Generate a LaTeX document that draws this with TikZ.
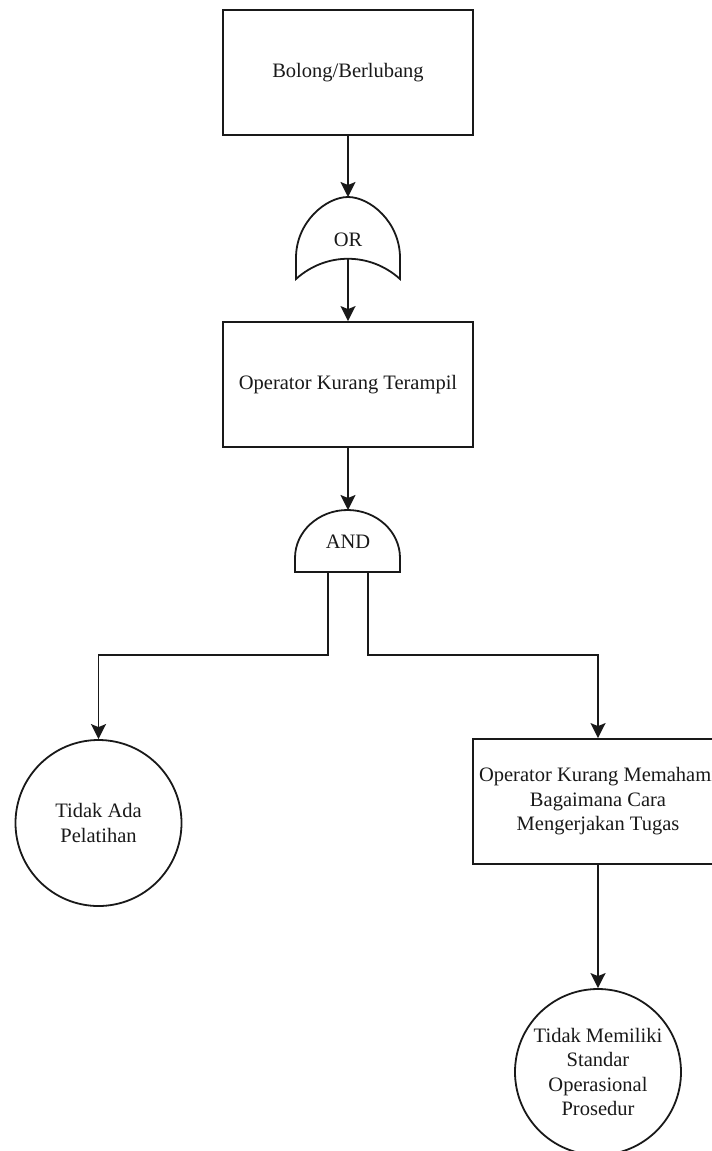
\documentclass[tikz,border=0pt]{standalone}
\usepackage{fontspec}
\setmainfont{Liberation Serif}
\usetikzlibrary{arrows.meta}
\begin{document}
\begin{tikzpicture}[x=1pt,y=-1pt,
  every node/.style={font=\fontsize{20.5}{24.5}\selectfont, text=black!90},
  line/.style={line width=1.8pt, draw=black!90},
  conn/.style={line, -{Stealth[length=15pt,width=15pt,inset=3pt]}},
  event/.style={line, rectangle, minimum width=250pt, minimum height=125pt, align=center, inner sep=0pt},
  basic/.style={line, circle, minimum size=166pt, align=center, inner sep=0pt},
  gate/.style={line, fill=white}]
\useasboundingbox (0,0) rectangle (712,1151);
\clip (0,0) rectangle (712,1151);

% events
\node[event] (top) at (348,72.5) {Bolong/Berlubang};
\node[event] (mid) at (348,384.5) {Operator Kurang Terampil};
\node[event] (right) at (598,801.5) {Operator Kurang Memahami\\Bagaimana Cara\\Mengerjakan Tugas};

% basic events
\node[basic] (left) at (98.5,823) {Tidak Ada\\Pelatihan};
\node[basic] (bottom) at (598,1072) {Tidak Memiliki\\Standar\\Operasional\\Prosedur};

% OR gate
\draw[gate] (296,279) -- (296,258)
  .. controls (296,222) and (326,197) .. (348,197)
  .. controls (370,197) and (400,222) .. (400,258)
  -- (400,279)
  .. controls (370,252) and (326,252) .. (296,279) -- cycle;
\node (orlabel) at (348,240) {OR};
\coordinate (orin) at (348,197);
\coordinate (orout) at (348,259);

% AND gate
\draw[gate] (295,572) -- (295,558)
  arc[start angle=180, end angle=360, x radius=52.5, y radius=48]
  -- (400,572) -- cycle;
\node (andlabel) at (348,542) {AND};
\coordinate (andin) at (348,510);
\coordinate (andl) at (328,572);
\coordinate (andr) at (368,572);

% connectors
\draw[conn] (top.south) -- (orin);
\draw[conn] (orout) -- (mid.north);
\draw[conn] (mid.south) -- (andin);
\draw[conn] (andl) |- (98.5,655) -- (left.north);
\draw[conn] (andr) |- (598,655) -- (right.north);
\draw[conn] (right.south) -- (bottom.north);
\end{tikzpicture}
\end{document}
